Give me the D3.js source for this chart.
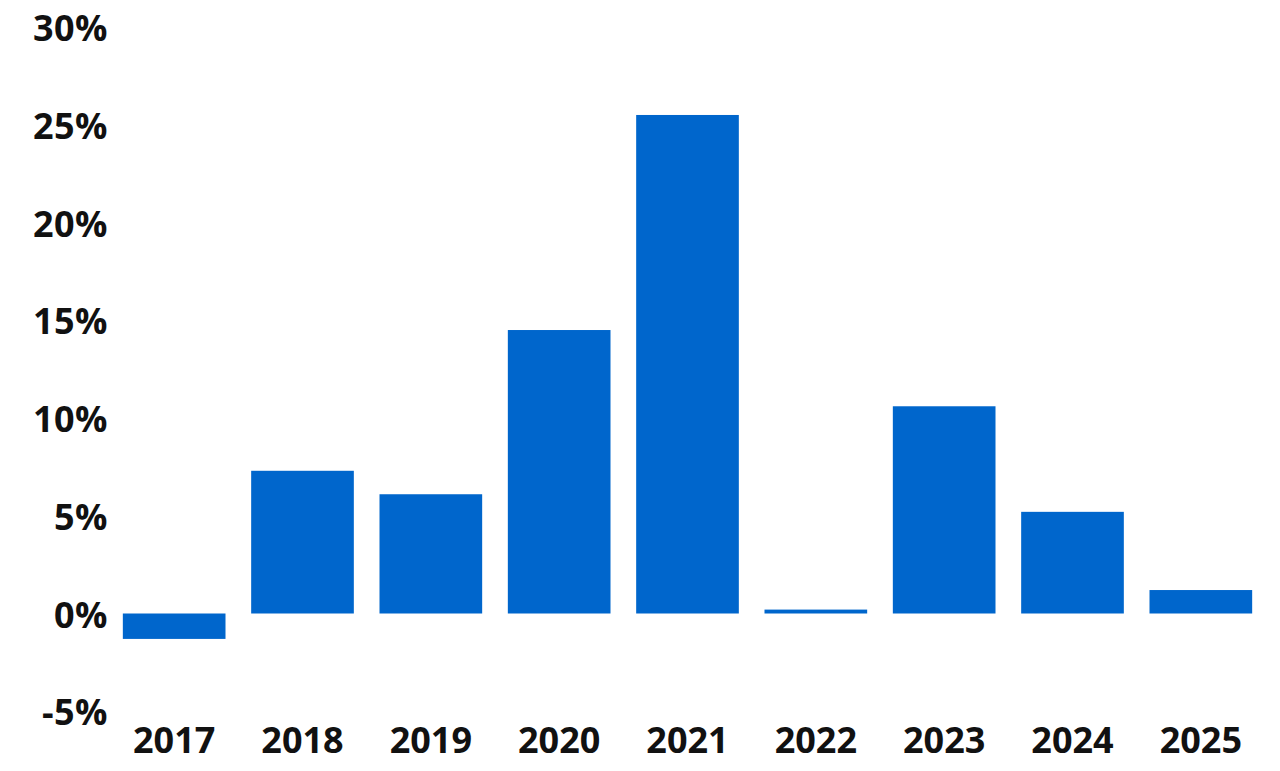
<!DOCTYPE html>
<html>
<head>
<meta charset="utf-8">
<script src="https://cdn.jsdelivr.net/npm/d3@7/dist/d3.min.js"></script>
<style>
  html, body { margin: 0; padding: 0; background: #fff; }
  svg { display: block; }
</style>
</head>
<body>
<svg id="chart" width="1280" height="771"></svg>
<script>
const years = ["2017", "2018", "2019", "2020", "2021", "2022", "2023", "2024", "2025"];
const values = [-1.3, 7.3, 6.1, 14.5, 25.5, 0.2, 10.6, 5.2, 1.2];
const yTicks = [-5, 0, 5, 10, 15, 20, 25, 30];

const svg = d3.select("#chart");
const W = 1280, H = 771;

const x = d3.scaleBand()
  .domain(years)
  .range([110, 1265])
  .paddingInner(0.2)
  .paddingOuter(0.1);

const y = d3.scaleLinear()
  .domain([-5, 30])
  .range([613.5 + 5 * 19.55, 613.5 - 30 * 19.55]);

svg.append("rect").attr("width", W).attr("height", H).attr("fill", "#fff");

// bars
svg.append("g").selectAll("rect")
  .data(values)
  .join("rect")
  .attr("x", (d, i) => x(years[i]))
  .attr("width", x.bandwidth())
  .attr("y", d => y(Math.max(0, d)))
  .attr("height", d => Math.abs(y(d) - y(0)))
  .attr("fill", "#0066cc");

// y axis
const yAxis = d3.axisLeft(y)
  .tickValues(yTicks)
  .tickFormat(d => d + "%")
  .tickSize(0)
  .tickPadding(0);

const gy = svg.append("g")
  .attr("transform", "translate(108,1)")
  .call(yAxis);
gy.select(".domain").remove();
gy.selectAll("text")
  .attr("fill", "#111")
  .attr("dy", "0.35em")
  .style("font-family", "'Open Sans', sans-serif")
  .style("font-weight", "700")
  .style("font-size", "36px")
  .style("letter-spacing", "0.5px");

// x axis
const xAxis = d3.axisBottom(x).tickSize(0).tickPadding(0);
const gx = svg.append("g")
  .attr("transform", "translate(0,727)")
  .call(xAxis);
gx.select(".domain").remove();
gx.selectAll("text")
  .attr("fill", "#111")
  .attr("dy", "0.71em")
  .style("font-family", "'Open Sans', sans-serif")
  .style("font-weight", "700")
  .style("font-size", "36px");
</script>
</body>
</html>
